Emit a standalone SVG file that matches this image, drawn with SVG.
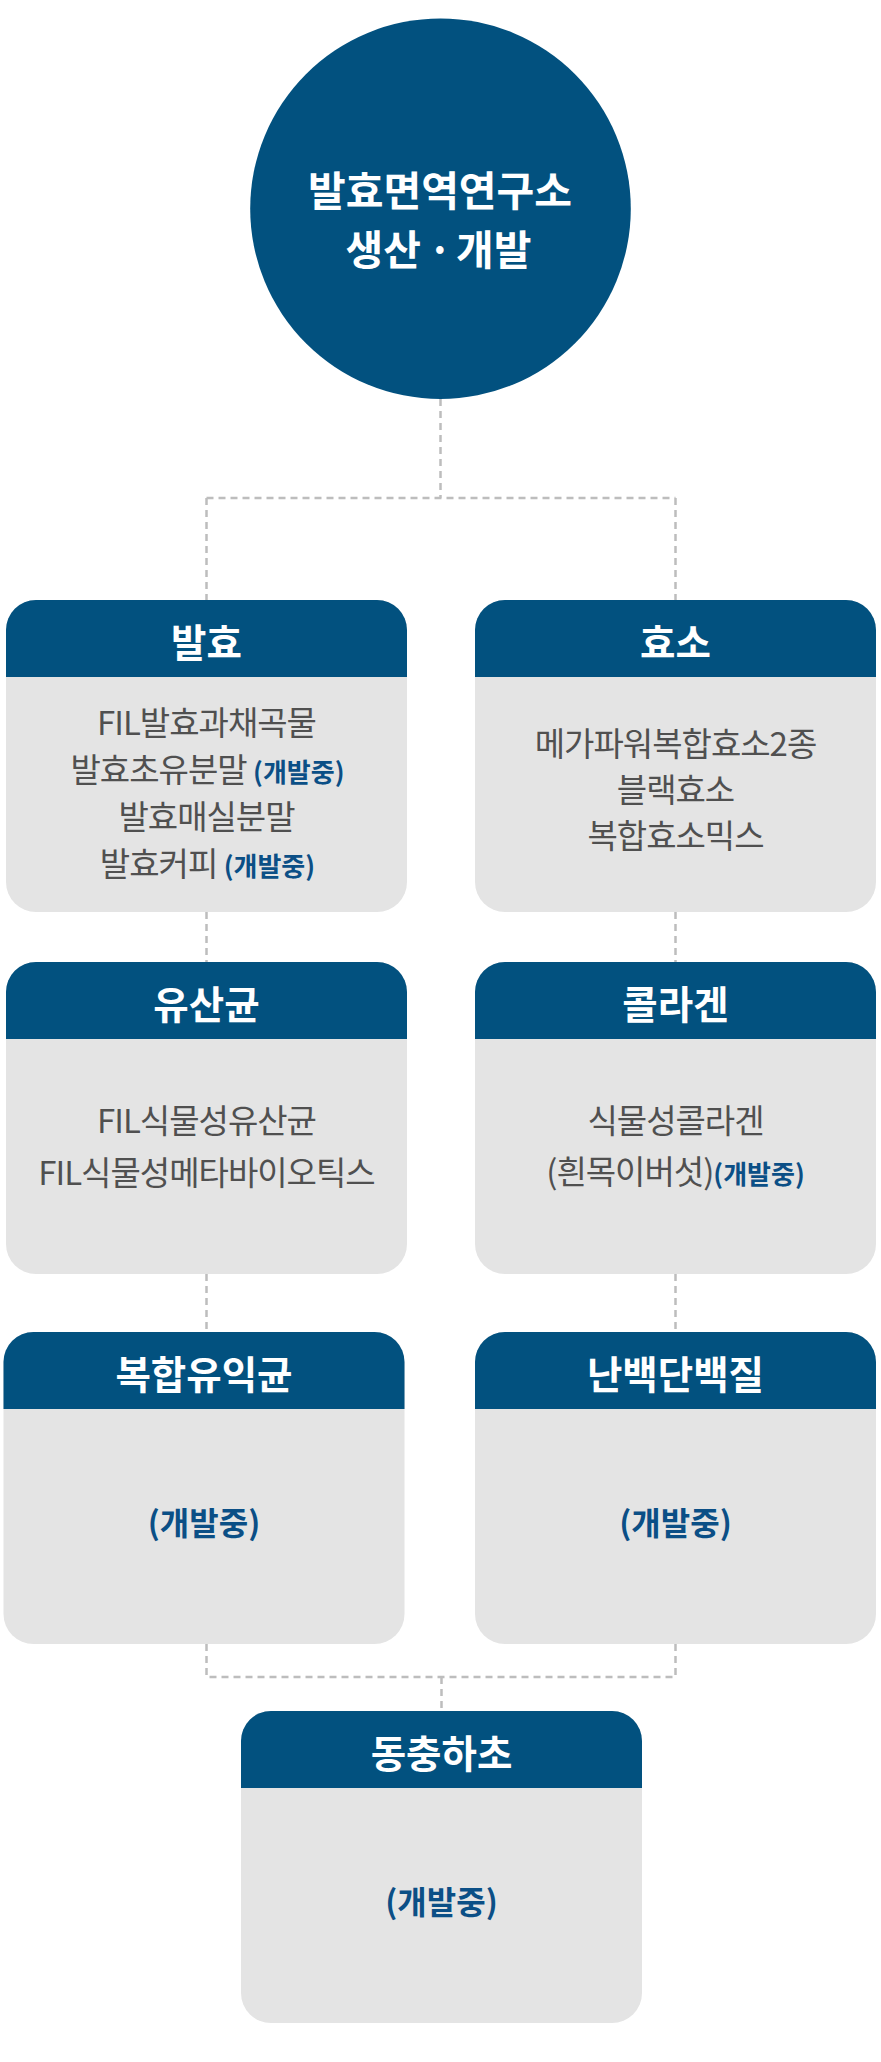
<svg xmlns="http://www.w3.org/2000/svg" xmlns:xlink="http://www.w3.org/1999/xlink" width="881" height="2062" viewBox="0 0 881 2062">
<style>
.bg{fill:#ffffff}
.card{fill:#e4e4e4}
.head{fill:#02517f}
.conn{fill:none;stroke:#bdbdbd;stroke-width:2.5;stroke-dasharray:7 5}
text{font-family:"Noto Sans CJK KR","Noto Sans",sans-serif;text-anchor:middle}
.root{font-size:41px;font-weight:700;fill:#ffffff}
.title{font-size:38.5px;font-weight:700;fill:#ffffff}
.body{font-size:33px;font-weight:400;fill:#505050;letter-spacing:-1px}
.dev{font-size:26px;font-weight:700;fill:#0b4f86;letter-spacing:0}
.devbig{font-size:32px;font-weight:700;fill:#0b4f86}
</style>
<defs>
<rect id="card" width="401" height="312" rx="30"/>
<path id="cardHead" d="M0,77 V30 A30,30 0 0 1 30,0 H371 A30,30 0 0 1 401,30 V77 Z"/>
</defs>
<rect class="bg" x="0" y="0" width="881" height="2062"/>
<g id="connectors">
<path class="conn" d="M440.5,399 V498 M206.5,498 H675.5 M206.5,498 V600 M675.5,498 V600 M206.5,912 V962 M675.5,912 V962 M206.5,1274 V1332 M675.5,1274 V1332 M206.5,1644 V1677 H675.5 V1644 M441.5,1677 V1711"/>
</g>
<g id="root">
<circle cx="440.5" cy="208.7" r="190.3" fill="#02517f"/>
<text class="root" x="440" y="206">발효면역연구소</text>
<text class="root" x="421" y="265" style="text-anchor:end">생산</text>
<text class="root" x="440" y="265">·</text>
<text class="root" x="456" y="265" style="text-anchor:start">개발</text>
</g>
<g id="n-balhyo" transform="translate(6,600)">
<use href="#card" class="card"/>
<use href="#cardHead" class="head"/>
<text class="title" x="200.5" y="57">발효</text>
<text class="body" x="200.5" y="135">FIL발효과채곡물</text>
<text class="body" x="201.5" y="182">발효초유분말 <tspan class="dev">(개발중)</tspan></text>
<text class="body" x="200.5" y="229">발효매실분말</text>
<text class="body" x="201.5" y="276">발효커피 <tspan class="dev">(개발중)</tspan></text>
</g>
<g id="n-hyoso" transform="translate(475,600)">
<use href="#card" class="card"/>
<use href="#cardHead" class="head"/>
<text class="title" x="200.5" y="57">효소</text>
<text class="body" x="200.5" y="156">메가파워복합효소2종</text>
<text class="body" x="200.5" y="202">블랙효소</text>
<text class="body" x="200.5" y="248">복합효소믹스</text>
</g>
<g id="n-yusangyun" transform="translate(6,962)">
<use href="#card" class="card"/>
<use href="#cardHead" class="head"/>
<text class="title" x="200.5" y="57">유산균</text>
<text class="body" x="200.5" y="171">FIL식물성유산균</text>
<text class="body" x="200.5" y="223">FIL식물성메타바이오틱스</text>
</g>
<g id="n-collagen" transform="translate(475,962)">
<use href="#card" class="card"/>
<use href="#cardHead" class="head"/>
<text class="title" x="200.5" y="57">콜라겐</text>
<text class="body" x="200.5" y="171">식물성콜라겐</text>
<text class="body" x="200.5" y="222">(흰목이버섯)<tspan class="dev">(개발중)</tspan></text>
</g>
<g id="n-bokhap" transform="translate(3.5,1332)">
<use href="#card" class="card"/>
<use href="#cardHead" class="head"/>
<text class="title" x="200.5" y="57">복합유익균</text>
<text class="devbig" x="200.5" y="203">(개발중)</text>
</g>
<g id="n-nanbaek" transform="translate(475,1332)">
<use href="#card" class="card"/>
<use href="#cardHead" class="head"/>
<text class="title" x="200.5" y="57">난백단백질</text>
<text class="devbig" x="200.5" y="203">(개발중)</text>
</g>
<g id="n-dongchung" transform="translate(241,1711)">
<use href="#card" class="card"/>
<use href="#cardHead" class="head"/>
<text class="title" x="200.5" y="57">동충하초</text>
<text class="devbig" x="200.5" y="203">(개발중)</text>
</g>
</svg>
